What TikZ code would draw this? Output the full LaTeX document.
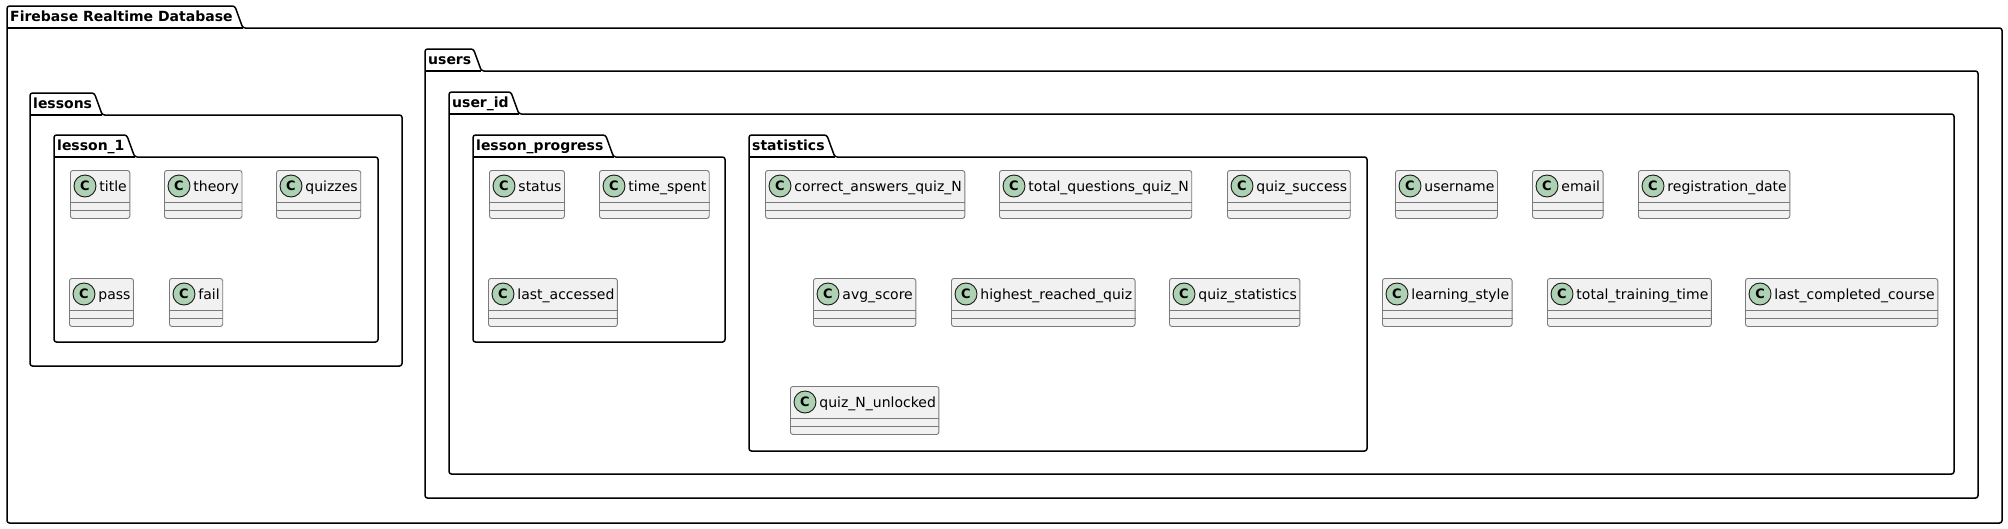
\documentclass[tikz,border=0pt]{standalone}
\usepackage{fontspec}
\setmainfont{DejaVu Sans}
\usetikzlibrary{calc}

\definecolor{classfill}{HTML}{F1F1F1}
\definecolor{classedge}{HTML}{7A7A7A}
\definecolor{spotfill}{HTML}{ADD1B2}
\definecolor{spotedge}{HTML}{181818}

% package frame: name, left, tab top, right, bottom, title
\newcommand{\pkgbox}[6]{%
  \node[pkgtitle] (#1) at ({#2+3},{#3+15}) {#6};
  \coordinate (#1-tl) at ({#2},{#3});
  \coordinate (#1-bt) at ({#2},{#3+22});
  \coordinate (#1-bl) at ({#2},{#5});
  \coordinate (#1-br) at ({#4},{#5});
  \coordinate (#1-tab) at ($(#1.base east)+(2,0)$);
  \draw[pkgline] (#1-bl) -- (#1-tl) -- (#1-tab |- #1-tl)
    -- ($(#1-tab |- #1-bt)+(8,0)$) -- (#1-br |- #1-bt) -- (#1-br) -- cycle;
  \draw[pkgline] (#1-bt) -- ($(#1-tab |- #1-bt)+(8,0)$);
}

% class box: name, left, top, label
\newcommand{\umlclass}[4]{%
  \node[classbox] (#1) at ({#2},{#3}) {\hspace*{26pt}#4};
  \draw[classline] ($(#1.north west)+(0,32)$) -- ($(#1.north east)+(0,32)$);
  \draw[classline] ($(#1.north west)+(0,40)$) -- ($(#1.north east)+(0,40)$);
  \node[spot] (#1-c) at ($(#1.north west)+(15,16)$) {C};
}

\begin{document}
\begin{tikzpicture}[x=1pt, y=-1pt,
    pkgline/.style={line width=1.5pt, rounded corners=2.5pt},
    pkgtitle/.style={anchor=base west, inner sep=0pt, font=\fontsize{14}{16}\selectfont\bfseries},
    classbox/.style={anchor=north west, draw=classedge, fill=classfill, line width=0.9pt,
      rounded corners=2.5pt, inner xsep=3pt, inner ysep=0pt,
      text height=21.5pt, text depth=26.5pt, font=\fontsize{14}{16}\selectfont},
    classline/.style={draw=classedge, line width=0.9pt},
    spot/.style={circle, draw=spotedge, fill=spotfill, line width=0.9pt,
      minimum size=22pt, inner sep=0pt, font=\fontsize{13}{13}\selectfont\bfseries}]

    % canvas
    \fill[white] (0,0) rectangle (2008,528);
    \useasboundingbox (0,0) rectangle (2008,528);

    % packages, outer to inner
    \pkgbox{firebase}{7}{6}{2002}{523}{Firebase Realtime Database}
    \pkgbox{lessons}{30}{93}{402}{366}{lessons}
    \pkgbox{lessonone}{54}{135}{378}{342}{lesson\_1}
    \pkgbox{users}{425}{49}{1978}{498}{users}
    \pkgbox{userid}{449}{92}{1954}{474}{user\_id}
    \pkgbox{progress}{473}{135}{725}{342}{lesson\_progress}
    \pkgbox{stats}{749}{135}{1367}{451}{statistics}

    % lesson_1 fields
    \umlclass{title}{70}{170}{title}
    \umlclass{theory}{164}{170}{theory}
    \umlclass{quizzes}{276}{170}{quizzes}
    \umlclass{pass}{69}{278}{pass}
    \umlclass{fail}{169}{278}{fail}

    % lesson_progress fields
    \umlclass{status}{489}{170}{status}
    \umlclass{timespent}{599}{170}{time\_spent}
    \umlclass{lastaccessed}{488}{278}{last\_accessed}

    % statistics fields
    \umlclass{correct}{765}{170}{correct\_answers\_quiz\_N}
    \umlclass{totalq}{999}{170}{total\_questions\_quiz\_N}
    \umlclass{success}{1227}{170}{quiz\_success}
    \umlclass{avgscore}{813}{278}{avg\_score}
    \umlclass{highest}{951}{278}{highest\_reached\_quiz}
    \umlclass{quizstats}{1169}{278}{quiz\_statistics}
    \umlclass{unlocked}{790}{386}{quiz\_N\_unlocked}

    % user_id fields
    \umlclass{username}{1395}{170}{username}
    \umlclass{email}{1532}{170}{email}
    \umlclass{regdate}{1638}{170}{registration\_date}
    \umlclass{learnstyle}{1382}{278}{learning\_style}
    \umlclass{traintime}{1547}{278}{total\_training\_time}
    \umlclass{lastcourse}{1745}{278}{last\_completed\_course}

\end{tikzpicture}
\end{document}
